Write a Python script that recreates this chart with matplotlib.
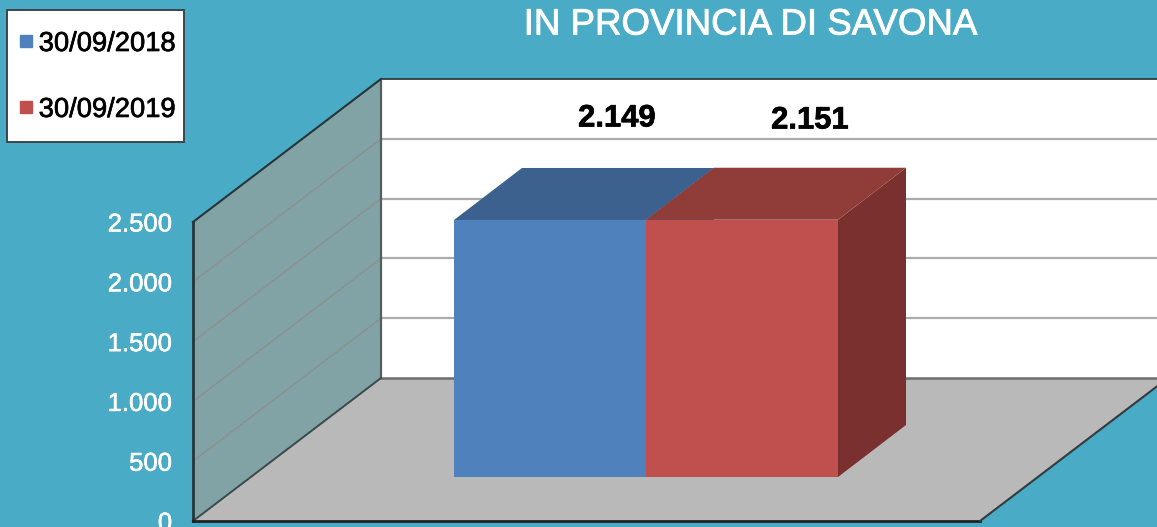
import matplotlib
matplotlib.use("Agg")
import matplotlib.pyplot as plt
import matplotlib.patheffects as pe
from matplotlib.lines import Line2D
from matplotlib.patches import Polygon, Rectangle

plt.rcParams['font.family'] = ['Liberation Sans', 'DejaVu Sans']

title = "IN PROVINCIA DI SAVONA"
series = ["30/09/2018", "30/09/2019"]
values = [2149, 2151]
value_labels = ["2.149", "2.151"]
ticks = [0, 500, 1000, 1500, 2000, 2500]
tick_labels = ["0", "500", "1.000", "1.500", "2.000", "2.500"]
front_colors = ["#4F81BD", "#C0504D"]
top_colors = ["#3C618F", "#903C39"]
side_colors = ["#3C618F", "#7A302E"]

W, H = 1157, 527
BG = "#4AABC6"
PX = 0.1196            # pixels per value unit
Y0 = 521               # pixel row of value 0 on the front axis


def v(px):
    """Height in pixels above the front baseline -> data units."""
    return px / PX


def heavy(text, color, w=0.5):
    text.set_path_effects([pe.withStroke(linewidth=w, foreground=color)])


fig = plt.figure(figsize=(W / 100, H / 100), dpi=100, facecolor=BG)
ax = fig.add_axes([0, 0, 1, 1], facecolor=BG)
ax.set_xlim(0, W)
ax.set_ylim(v(Y0 - H), v(Y0))
for s in ax.spines.values():
    s.set_visible(False)
ax.set_xticks([])
ax.set_yticks(ticks, tick_labels)
ax.tick_params(axis='y', length=0, pad=-124, labelcolor='white', labelsize=18.5)
for lab in ax.get_yticklabels():
    lab.set_verticalalignment('center_baseline')
    heavy(lab, 'white', 0.4)

# 3D frame
x0, dx, dy = 193, 188, 143
top = ticks[-1]
ax.add_patch(Polygon([(x0 + dx, v(dy)), (W + 5, v(dy)), (W + 5, top + v(dy)), (x0 + dx, top + v(dy))],
                     fc='white', ec='none', zorder=1))
ax.add_patch(Polygon([(x0, 0), (x0 + 787, 0), (x0 + 787 + dx, v(dy)), (x0 + dx, v(dy))],
                     fc='#B9B9B9', ec='none', zorder=2))
ax.add_patch(Polygon([(x0, 0), (x0 + dx, v(dy)), (x0 + dx, top + v(dy)), (x0, top)],
                     fc='#82A3A5', ec='none', zorder=2))
for t in ticks[1:-1]:
    ax.plot([x0, x0 + dx], [t, t + v(dy)], color='#8A9292', lw=1.2, zorder=3)
    ax.plot([x0 + dx, W + 5], [t + v(dy), t + v(dy)], color='#ABABAB', lw=1.6, zorder=3)
ax.plot([x0 + dx, W + 5], [v(dy), v(dy)], color='#6E6E6E', lw=1.8, zorder=3)
ax.plot([x0 + dx, W + 5], [top + v(dy), top + v(dy)], color='#2F3F40', lw=1.3, zorder=3)
ax.plot([x0 + dx, x0 + dx], [v(dy), top + v(dy)], color='#555F60', lw=1.6, zorder=3)
ax.plot([x0, x0 + dx], [top, top + v(dy)], color='#263638', lw=1.5, zorder=4)
ax.plot([x0, x0 + dx], [0, v(dy)], color='#3A4A4A', lw=1.4, zorder=4)
ax.plot([x0, x0], [0, top], color='#263638', lw=2, zorder=4)
ax.plot([x0, x0 + 787], [0, 0], color='#222222', lw=2, zorder=4)
ax.plot([x0 + 787, x0 + 787 + dx], [0, v(dy)], color='#333B3C', lw=1.5, zorder=4)

# Bars
bar_left, bar_w, bx, by, lift = 454, 192, 68, 52, 44
for i, val in enumerate(values):
    l = bar_left + i * bar_w
    r = l + bar_w
    b = v(lift)
    t = b + val
    z = 5 + i
    ax.add_patch(Polygon([(r, b), (r + bx, b + v(by)), (r + bx, t + v(by)), (r, t)],
                         fc=side_colors[i], ec='none', zorder=z))
    ax.add_patch(Polygon([(l, t), (r, t), (r + bx, t + v(by)), (l + bx, t + v(by))],
                         fc=top_colors[i], ec='none', zorder=z))
    ax.add_patch(Polygon([(l, b), (r, b), (r, t), (l, t)],
                         fc=front_colors[i], ec='none', zorder=z))

# Value labels
label_x = [617, 810]
label_y = [v(Y0 - 115), v(Y0 - 117)]
for x, y, s in zip(label_x, label_y, value_labels):
    t = ax.text(x, y, s, ha='center', va='center_baseline', fontsize=22.3, fontweight='bold',
                color='black', zorder=10)
    heavy(t, 'black', 0.5)

# Title
t = ax.text(750, v(Y0 - 21), title, ha='center', va='center_baseline', fontsize=26.4, color='white', zorder=10)
heavy(t, 'white', 0.6)

# Legend box and legend
fig.add_artist(Rectangle((7 / W, 1 - 142 / H), 177 / W, 132 / H, transform=fig.transFigure,
                         fc='white', ec='#3A4648', lw=1.4, zorder=19))
handles = [Line2D([], [], ls='none', marker='s', ms=9, mfc=c, mec=c) for c in front_colors]
leg = fig.legend(handles, series, loc='upper left', bbox_to_anchor=(19 / W, 1 - 31 / H),
                 bbox_transform=fig.transFigure, borderaxespad=0, fontsize=19.7, frameon=False,
                 labelspacing=1.46, borderpad=0, handlelength=0.5, handletextpad=0.22)
leg.set_zorder(20)
for t in leg.get_texts():
    heavy(t, 'black', 0.5)

fig.savefig("out.png", dpi=100, facecolor=BG)
